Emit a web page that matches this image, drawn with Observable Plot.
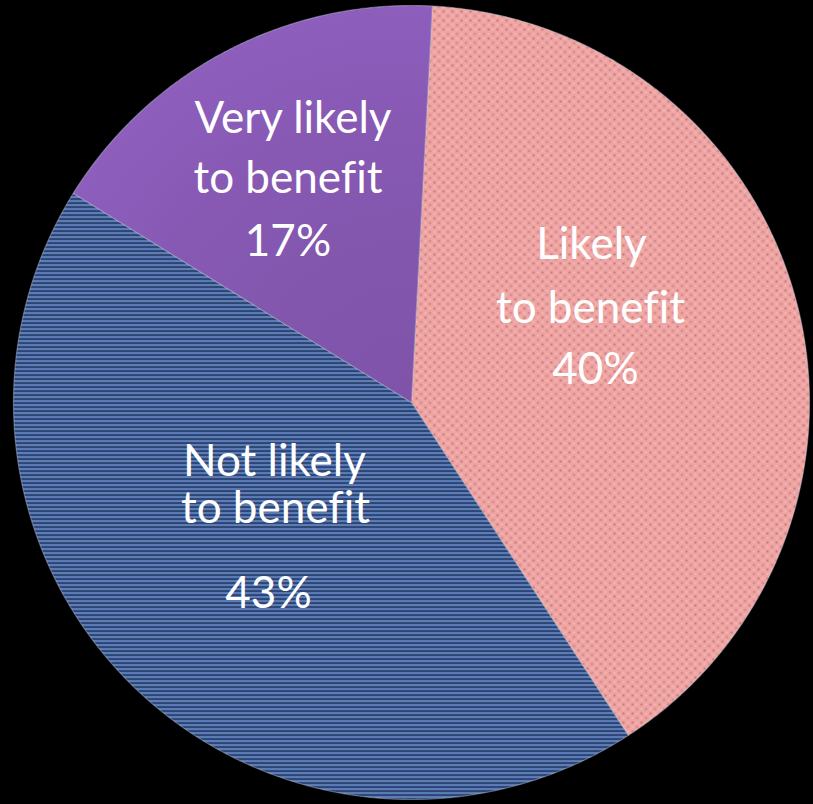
<!DOCTYPE html>
<html>
<head>
<meta charset="utf-8">
<script src="https://cdn.jsdelivr.net/npm/d3@7"></script>
<script src="https://cdn.jsdelivr.net/npm/@observablehq/plot@0.6"></script>
<style>
  html, body { margin: 0; padding: 0; background: #000; }
  #chart { width: 813px; height: 804px; }
  #chart text { font-variant-ligatures: none; font-feature-settings: "liga" 0; }
</style>
</head>
<body>
<div id="chart"></div>
<script>
// ---- data ----
const categories = ["Likely", "Not likely", "Very likely"];
const values = [40, 43, 17];
const labelLines = [["Likely", "to benefit"], ["Not likely", "to benefit"], ["Very likely", "to benefit"]];
const percentLabels = ["40%", "43%", "17%"];

// ---- layout (not data) ----
const W = 813, H = 804;
const cx = 411, cy = 402, rx = 398, ry = 397;
const startAngle = 3 * Math.PI / 180;
const fills = ["url(#pinkDots)", "url(#blueStripes)", "url(#purpleFill)"];
// label line baselines, in pixel space, converted to data coords
const labelPix = [
  [[591, 258], [590, 322], [595, 383]],
  [[274, 475], [275, 522], [268, 607]],
  [[292.5, 132], [287.5, 192], [287.5, 255]]
];
const toX = px => (px - cx) / rx;
const toY = py => (cy - py) / ry;

const pie = d3.pie().sort(null).startAngle(startAngle).endAngle(startAngle + 2 * Math.PI)(values);

const slices = pie.map((a, i) => {
  const pts = [{x: 0, y: 0}];
  const n = Math.max(8, Math.ceil((a.endAngle - a.startAngle) / 0.005));
  for (let k = 0; k <= n; k++) {
    const t = a.startAngle + (a.endAngle - a.startAngle) * k / n;
    pts.push({x: Math.sin(t), y: Math.cos(t)});
  }
  pts.push({x: 0, y: 0});
  return {category: categories[i], pts};
});

const textRows = [];
categories.forEach((c, i) => {
  const lines = [...labelLines[i], percentLabels[i]];
  lines.forEach((t, j) => {
    textRows.push({text: t, x: toX(labelPix[i][j][0]), y: toY(labelPix[i][j][1])});
  });
});

const marks = slices.map((s, i) =>
  Plot.line(s.pts, {x: "x", y: "y", fill: fills[i], stroke: "#c8d2e6", strokeOpacity: 0.4, strokeWidth: 1.2, curve: "linear"})
);
marks.push(Plot.text(textRows, {
  x: "x", y: "y", text: "text",
  fill: "white", fontSize: 44, fontFamily: "Lato", lineAnchor: "bottom", textAnchor: "middle"
}));

const svg = Plot.plot({
  width: W, height: H,
  margin: 0,
  x: {domain: [-1, 1], range: [cx - rx, cx + rx], axis: null},
  y: {domain: [-1, 1], range: [cy + ry, cy - ry], axis: null},
  style: {background: "#000", overflow: "visible"},
  marks
});

// patterns
const defs = d3.select(svg).insert("defs", ":first-child");
// pink dotted
const pd = defs.append("pattern").attr("id", "pinkDots").attr("patternUnits", "userSpaceOnUse")
  .attr("width", 9).attr("height", 9);
pd.append("rect").attr("width", 9).attr("height", 9).attr("fill", "#eea4a2");
pd.append("circle").attr("cx", 2).attr("cy", 2).attr("r", 1.1).attr("fill", "#bd6e70");
pd.append("circle").attr("cx", 6.5).attr("cy", 6.5).attr("r", 1.1).attr("fill", "#c67a7c");
pd.append("circle").attr("cx", 6.5).attr("cy", 2).attr("r", 1.0).attr("fill", "#f8bcb8");
pd.append("circle").attr("cx", 2).attr("cy", 6.5).attr("r", 1.0).attr("fill", "#f8bcb8");
// blue stripes
const bs = defs.append("pattern").attr("id", "blueStripes").attr("patternUnits", "userSpaceOnUse")
  .attr("width", 8).attr("height", 8);
const stripeCols = ["#6f92cc", "#4467a8", "#1e2a5c", "#3b5c98", "#7799d0", "#4568a2", "#1c2856", "#456482"];
stripeCols.forEach((c, k) => bs.append("rect").attr("x", 0).attr("y", k).attr("width", 8).attr("height", 1).attr("fill", c));
// purple gradient
const pg = defs.append("radialGradient").attr("id", "purpleFill").attr("gradientUnits", "userSpaceOnUse")
  .attr("cx", 411).attr("cy", 402).attr("r", 400);
pg.append("stop").attr("offset", "0%").attr("stop-color", "#7e53a8");
pg.append("stop").attr("offset", "70%").attr("stop-color", "#8759b3");
pg.append("stop").attr("offset", "100%").attr("stop-color", "#8e5ebd");

document.getElementById("chart").appendChild(svg);
</script>
</body>
</html>
